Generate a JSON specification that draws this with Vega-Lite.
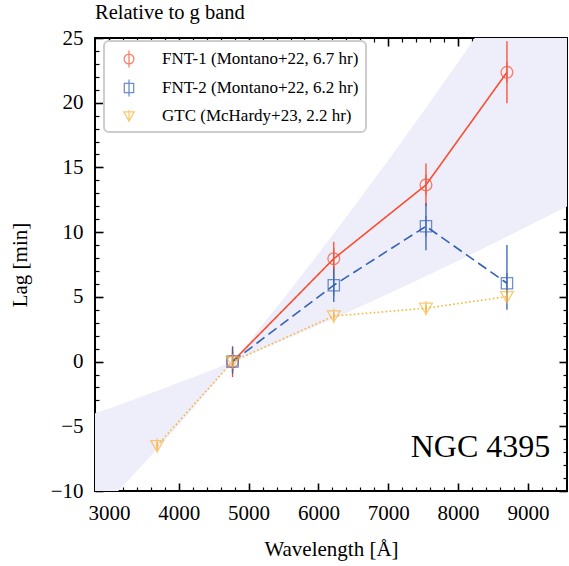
{
  "$schema": "https://vega.github.io/schema/vega-lite/v6.json",
  "width": 472,
  "height": 453,
  "autosize": {"type": "none"},
  "padding": {"left": 95, "top": 38, "right": 2, "bottom": 75},
  "background": "white",
  "title": {"text": "Relative to g band", "anchor": "start", "frame": "group", "fontSize": 20.5, "font": "Liberation Serif", "fontWeight": "normal", "baseline": "alphabetic", "offset": -12, "color": "black"},
  "datasets": {
    "band": [
      {"lam": 2800, "lo": -11.85, "hi": -3.99},
      {"lam": 3000, "lo": -10.74, "hi": -3.62},
      {"lam": 3200, "lo": -9.62, "hi": -3.24},
      {"lam": 3500, "lo": -7.88, "hi": -2.65},
      {"lam": 3800, "lo": -6.09, "hi": -2.05},
      {"lam": 4100, "lo": -4.26, "hi": -1.43},
      {"lam": 4400, "lo": -2.38, "hi": -0.8},
      {"lam": 4770, "lo": 0, "hi": 0},
      {"lam": 5000, "lo": 0.51, "hi": 1.51},
      {"lam": 5500, "lo": 1.64, "hi": 4.87},
      {"lam": 6000, "lo": 2.81, "hi": 8.34},
      {"lam": 6500, "lo": 4.01, "hi": 11.9},
      {"lam": 7000, "lo": 5.24, "hi": 15.56},
      {"lam": 7500, "lo": 6.5, "hi": 19.3},
      {"lam": 8000, "lo": 7.79, "hi": 23.13},
      {"lam": 8500, "lo": 9.11, "hi": 27.04},
      {"lam": 9000, "lo": 10.45, "hi": 31.02},
      {"lam": 9600, "lo": 12.1, "hi": 35.91}
    ],
    "obs": [
      {"series": "FNT-1 (Montano+22, 6.7 hr)", "lam": 4770, "lag": 0, "lo": -1.2, "hi": 1.2},
      {"series": "FNT-1 (Montano+22, 6.7 hr)", "lam": 6220, "lag": 7.95, "lo": 6.65, "hi": 9.25},
      {"series": "FNT-1 (Montano+22, 6.7 hr)", "lam": 7540, "lag": 13.65, "lo": 12.0, "hi": 15.3},
      {"series": "FNT-1 (Montano+22, 6.7 hr)", "lam": 8700, "lag": 22.35, "lo": 19.95, "hi": 24.75},
      {"series": "FNT-2 (Montano+22, 6.2 hr)", "lam": 4770, "lag": 0, "lo": -0.95, "hi": 1.1},
      {"series": "FNT-2 (Montano+22, 6.2 hr)", "lam": 6220, "lag": 5.9, "lo": 4.6, "hi": 7.3},
      {"series": "FNT-2 (Montano+22, 6.2 hr)", "lam": 7540, "lag": 10.45, "lo": 8.6, "hi": 12.25},
      {"series": "FNT-2 (Montano+22, 6.2 hr)", "lam": 8700, "lag": 6.05, "lo": 4.0, "hi": 9.0},
      {"series": "GTC (McHardy+23, 2.2 hr)", "lam": 3690, "lag": -6.5, "lo": -6.8, "hi": -6.2},
      {"series": "GTC (McHardy+23, 2.2 hr)", "lam": 4770, "lag": 0, "lo": -0.3, "hi": 0.3},
      {"series": "GTC (McHardy+23, 2.2 hr)", "lam": 6220, "lag": 3.52, "lo": 3.25, "hi": 3.8},
      {"series": "GTC (McHardy+23, 2.2 hr)", "lam": 7540, "lag": 4.12, "lo": 3.85, "hi": 4.4},
      {"series": "GTC (McHardy+23, 2.2 hr)", "lam": 8700, "lag": 5.02, "lo": 4.75, "hi": 5.3}
    ],
    "note": [{"lam": 9320, "lag": -7.35, "text": "NGC 4395"}]
  },
  "layer": [
    {
      "data": {"name": "band"},
      "mark": {"type": "area", "color": "#eeeefa", "clip": true},
      "encoding": {
        "x": {"field": "lam", "type": "quantitative",
          "scale": {"domain": [2800, 9560], "nice": false, "zero": false},
          "axis": {"orient": "bottom", "title": "Wavelength [Å]", "format": "d",
            "values": [3000, 4000, 5000, 6000, 7000, 8000, 9000], "ticks": true,
            "offset": -8, "tickSize": 8, "tickWidth": 1.6,
            "labelPadding": 11, "titlePadding": 15}},
        "y": {"field": "lo", "type": "quantitative",
          "scale": {"domain": [-10, 25], "nice": false, "zero": false},
          "axis": {"orient": "left", "title": "Lag [min]",
            "values": [-10, -5, 0, 5, 10, 15, 20, 25], "ticks": true,
            "offset": -8, "tickSize": 8, "tickWidth": 1.6,
            "labelPadding": 12, "titlePadding": 20}},
        "y2": {"field": "hi"}
      }
    },
    {
      "data": {"name": "obs"},
      "mark": {"type": "line", "strokeWidth": 1.6, "clip": true},
      "encoding": {
        "x": {"field": "lam", "type": "quantitative",
          "scale": {"domain": [2800, 9560], "nice": false, "zero": false},
          "axis": {"orient": "top", "title": null, "labels": false, "ticks": true,
            "values": [3000, 4000, 5000, 6000, 7000, 8000, 9000],
            "offset": -8, "tickSize": 8, "tickWidth": 1.6}},
        "y": {"field": "lag", "type": "quantitative",
          "scale": {"domain": [-10, 25], "nice": false, "zero": false},
          "axis": {"orient": "right", "title": null, "labels": false, "ticks": true,
            "values": [-10, -5, 0, 5, 10, 15, 20, 25],
            "offset": -8, "tickSize": 8, "tickWidth": 1.6}},
        "stroke": {"field": "series", "type": "nominal",
          "scale": {"range": ["#f94d2f", "#3361b3", "#f9b53a"]},
          "legend": null},
        "strokeDash": {"field": "series", "type": "nominal",
          "scale": {"range": [[1, 0], [10, 5], [1.6, 2.4]]},
          "legend": null}
      }
    },
    {
      "data": {"name": "obs"},
      "mark": {"type": "rule", "strokeWidth": 1.3},
      "encoding": {
        "x": {"field": "lam", "type": "quantitative",
          "scale": {"domain": [2800, 9560], "nice": false, "zero": false},
          "axis": {"orient": "bottom", "title": null, "labels": false, "ticks": true,
            "values": [3200,3400,3600,3800,4200,4400,4600,4800,5200,5400,5600,5800,6200,6400,6600,6800,7200,7400,7600,7800,8200,8400,8600,8800,9200,9400],
            "offset": -4, "tickSize": 4, "tickWidth": 1.2}},
        "y": {"field": "lo", "type": "quantitative",
          "scale": {"domain": [-10, 25], "nice": false, "zero": false},
          "axis": {"orient": "left", "title": null, "labels": false, "ticks": true,
            "values": [-9,-8,-7,-6,-4,-3,-2,-1,1,2,3,4,6,7,8,9,11,12,13,14,16,17,18,19,21,22,23,24],
            "offset": -4, "tickSize": 4, "tickWidth": 1.2}},
        "y2": {"field": "hi"},
        "stroke": {"field": "series", "type": "nominal", "legend": null}
      }
    },
    {
      "data": {"name": "obs"},
      "mark": {"type": "point", "filled": false, "strokeWidth": 1.3, "size": 576},
      "encoding": {
        "x": {"field": "lam", "type": "quantitative",
          "scale": {"domain": [2800, 9560], "nice": false, "zero": false},
          "axis": {"orient": "top", "title": null, "labels": false, "ticks": true,
            "values": [3200,3400,3600,3800,4200,4400,4600,4800,5200,5400,5600,5800,6200,6400,6600,6800,7200,7400,7600,7800,8200,8400,8600,8800,9200,9400],
            "offset": -4, "tickSize": 4, "tickWidth": 1.2}},
        "y": {"field": "lag", "type": "quantitative",
          "scale": {"domain": [-10, 25], "nice": false, "zero": false},
          "axis": {"orient": "right", "title": null, "labels": false, "ticks": true,
            "values": [-9,-8,-7,-6,-4,-3,-2,-1,1,2,3,4,6,7,8,9,11,12,13,14,16,17,18,19,21,22,23,24],
            "offset": -4, "tickSize": 4, "tickWidth": 1.2}},
        "color": {"field": "series", "type": "nominal", "title": null,
          "scale": {"domain": ["FNT-1 (Montano+22, 6.7 hr)", "FNT-2 (Montano+22, 6.2 hr)", "GTC (McHardy+23, 2.2 hr)"], "range": ["#f94d2f", "#3361b3", "#f9b53a"]}},
        "shape": {"field": "series", "type": "nominal", "title": null,
          "scale": {"domain": ["FNT-1 (Montano+22, 6.7 hr)", "FNT-2 (Montano+22, 6.2 hr)", "GTC (McHardy+23, 2.2 hr)"],
            "range": ["M -0.49 0 A 0.49 0.49 0 1 1 0.49 0 A 0.49 0.49 0 1 1 -0.49 0 Z M 0 -0.86 L 0 0.86", "M -0.47 -0.47 L 0.47 -0.47 L 0.47 0.47 L -0.47 0.47 Z M 0 -0.86 L 0 0.86", "M -0.53 -0.42 L 0.53 -0.42 L 0 0.5 Z M 0 -0.6 L 0 0.6"]}}
      }
    },
    {
      "data": {"name": "note"},
      "mark": {"type": "text", "align": "right", "baseline": "alphabetic", "fontSize": 32, "font": "Liberation Serif", "color": "black"},
      "encoding": {
        "x": {"field": "lam", "type": "quantitative", "axis": null},
        "y": {"field": "lag", "type": "quantitative", "axis": null},
        "text": {"field": "text"}
      }
    }
  ],
  "resolve": {"axis": {"x": "independent", "y": "independent"}},
  "config": {
    "font": "Liberation Serif",
    "view": {"stroke": "black", "strokeWidth": 2},
    "axis": {"domain": false, "grid": false, "ticks": true, "labelFont": "Liberation Serif", "titleFont": "Liberation Serif", "labelFontSize": 21, "titleFontSize": 21, "titleFontWeight": "normal", "labelColor": "black", "titleColor": "black", "tickColor": "black", "labelOverlap": false, "labelFlush": false},
    "legend": {"orient": "none", "legendX": 9, "legendY": 3, "padding": 7, "symbolOffset": 7, "labelOffset": 22, "rowPadding": 5, "strokeColor": "#cccccc", "strokeWidth": 2, "fillColor": "white", "cornerRadius": 5, "labelFont": "Liberation Serif", "labelFontSize": 17, "labelColor": "black", "labelLimit": 400, "symbolStrokeWidth": 1.3, "symbolSize": 400}
  }
}
